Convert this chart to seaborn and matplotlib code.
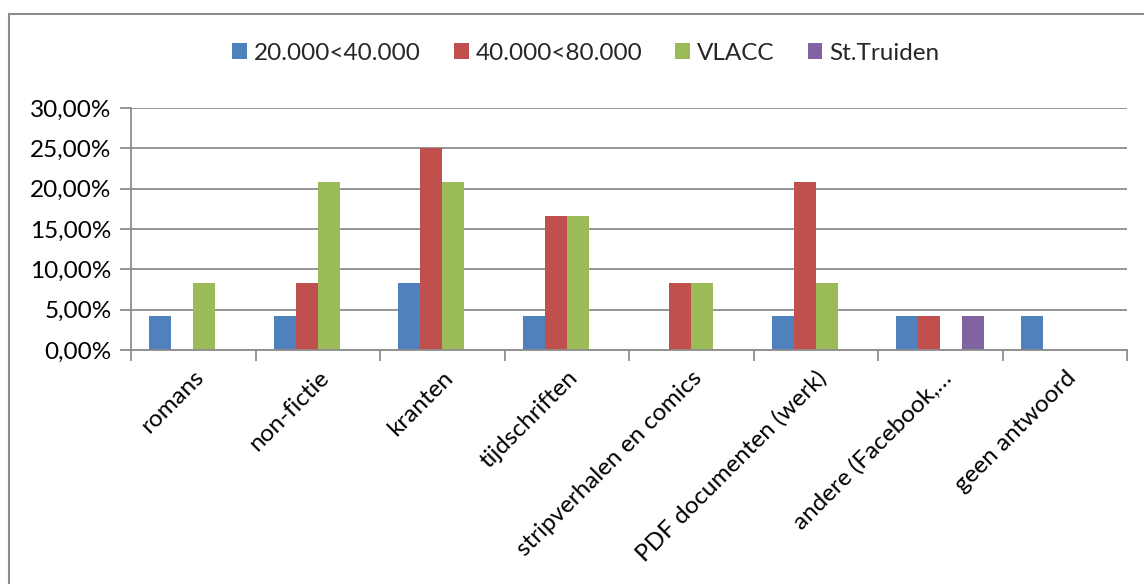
import pandas as pd
import numpy as np
import matplotlib
matplotlib.use("Agg")
import matplotlib.pyplot as plt
import seaborn as sns
from matplotlib.ticker import FuncFormatter, FixedLocator
from matplotlib.patches import Rectangle

# --- data (fractions) ---
categories = ["romans", "non-fictie", "kranten", "tijdschriften",
              "stripverhalen en comics", "PDF documenten (werk)",
              "andere (Facebook,…", "geen antwoord"]
series_names = ["20.000<40.000", "40.000<80.000", "VLACC", "St.Truiden"]
vals_20_40 = [0.0417, 0.0417, 0.0833, 0.0417, 0.0, 0.0417, 0.0417, 0.0417]
vals_40_80 = [0.0, 0.0833, 0.25, 0.1667, 0.0833, 0.2083, 0.0417, 0.0]
vals_vlacc = [0.0833, 0.2083, 0.2083, 0.1667, 0.0833, 0.0833, 0.0, 0.0]
vals_sttruiden = [0.0, 0.0, 0.0, 0.0, 0.0, 0.0, 0.0417, 0.0]
colors = ["#4F81BD", "#C0504D", "#9BBB59", "#8064A2"]

df = pd.DataFrame({
    "categorie": categories * 4,
    "reeks": np.repeat(series_names, len(categories)),
    "waarde": vals_20_40 + vals_40_80 + vals_vlacc + vals_sttruiden,
})

sns.set_theme(style="white")
plt.rcParams["font.family"] = ["Lato", "DejaVu Sans"]
grid_col = "#8C8C8C"
fs = 17.5

fig = plt.figure(figsize=(11.44, 5.84), dpi=100)
ax = fig.add_axes([131 / 1144, 1 - 350 / 584, (1127 - 131) / 1144, (350 - 108) / 584])

sns.barplot(data=df, x="categorie", y="waarde", hue="reeks", order=categories,
            hue_order=series_names, palette=colors, width=0.71, saturation=1,
            linewidth=0, ax=ax, errorbar=None, legend=True)

ax.set_xlim(-0.5, len(categories) - 0.5)
ax.set_ylim(0, 0.30)
ax.set_yticks(np.arange(0, 0.301, 0.05))
ax.yaxis.set_major_formatter(FuncFormatter(lambda v, p: f"{v * 100:.2f}%".replace(".", ",")))
ax.grid(axis="y", color=grid_col, lw=1.3)
ax.set_axisbelow(True)
ax.set_xlabel("")
ax.set_ylabel("")

for s in ["top", "right"]:
    ax.spines[s].set_visible(False)
for s in ["left", "bottom"]:
    ax.spines[s].set_color(grid_col)
    ax.spines[s].set_linewidth(1.3)

ax.tick_params(axis="y", length=8, width=1.3, color=grid_col, labelsize=fs,
               labelcolor="black", left=True, pad=6)
ax.tick_params(axis="x", which="major", length=0, labelsize=fs, labelcolor="black", pad=12)
ax.xaxis.set_minor_locator(FixedLocator(np.arange(-0.5, len(categories), 1.0)))
ax.tick_params(axis="x", which="minor", length=8, width=1.3, color=grid_col, bottom=True)
plt.setp(ax.get_xticklabels(), rotation=45, ha="right", rotation_mode="anchor")

leg = ax.legend(loc="center", bbox_to_anchor=(0.5 + 14 / 1144, 1 - 53 / 584),
                bbox_transform=fig.transFigure, ncol=4, frameon=False, fontsize=fs,
                handlelength=0.6, handleheight=0.6, handletextpad=0.3, columnspacing=1.35)

# outer chart border like the Excel chart area
fig.patches.append(Rectangle((9 / 1144, -0.05), 1.2, 1 - 14 / 584 + 0.05,
                             transform=fig.transFigure, fill=False,
                             edgecolor=grid_col, lw=1.5))

fig.savefig("out.png", dpi=100)
